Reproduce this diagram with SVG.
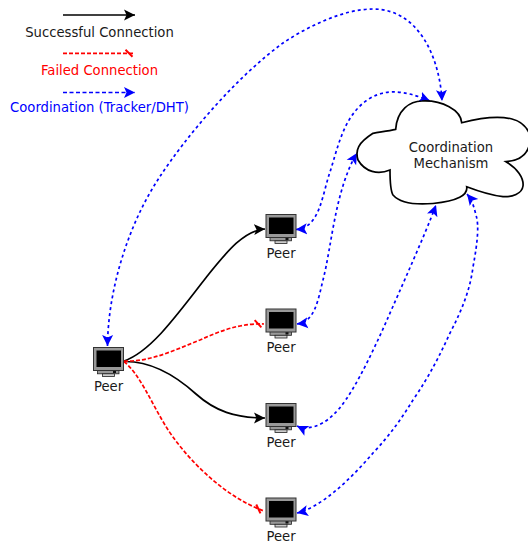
<svg xmlns="http://www.w3.org/2000/svg" width="528" height="544" viewBox="0 0 528 544">
<style>
text{font-family:"DejaVu Sans",sans-serif;font-size:13.2px;text-anchor:middle;fill:#1a1a1a}
.c{fill:none;stroke-width:1.7}
.k{stroke:#000;marker-end:url(#ak)}
.r{stroke:#f00;stroke-dasharray:4 2;marker-end:url(#tick)}
.b{stroke:#00f;stroke-dasharray:3 3;marker-start:url(#ab);marker-end:url(#ab)}
.l{stroke:#00f;stroke-dasharray:4 2.500;marker-end:url(#ab)}
</style>
<defs>
<marker id="ak" markerUnits="userSpaceOnUse" markerWidth="13" markerHeight="13" refX="11" refY="6" orient="auto"><path d="M0,.5L11,6L0,11.500L2.500,6Z" fill="#000"/></marker>
<marker id="ab" markerUnits="userSpaceOnUse" markerWidth="13" markerHeight="13" refX="11" refY="6" orient="auto-start-reverse"><path d="M0,.5L11,6L0,11.500L2.500,6Z" fill="#00f"/></marker>
<marker id="tick" markerUnits="userSpaceOnUse" markerWidth="14" markerHeight="14" refX="12.500" refY="6" orient="auto"><path d="M3,2.500L10,9.500" stroke="#f00" stroke-width="2" fill="none"/></marker>
<g id="pc">
<rect x="4.500" y="23" width="21.500" height="3.800" fill="#999" stroke="#222" stroke-width=".8"/>
<rect x="9.500" y="26.800" width="12" height="2.700" fill="#ccc" stroke="#222" stroke-width=".8"/>
<rect x="20" y="23.500" width="3" height="2.500" fill="#111"/>
<rect x=".5" y=".5" width="30" height="23" fill="#999" stroke="#333" stroke-width="1"/>
<rect x="3.500" y="3.500" width="24.500" height="16.500" fill="#000"/>
</g>
</defs>
<g id="connectors">
<path class="c k" d="M124,361C150,352 175,318 206.700,276.700C228,250 245,230 265,229"/>
<path class="c k" d="M124,361.500C150,361 175,375 196,394C215,411 235,418 265,418"/>
<path class="c r" d="M124,361C150,362 175,350 200,340C220,331 240,323 264,324"/>
<path class="c r" d="M124,361.500C140,375 150,400 165,425C182,453 220,495 264,511"/>
<path class="c b" d="M107.500,346C108,290 128,225 159,178C185,138 235,78 283,43C310,25 345,9 373,9C420,9 440,60 442,101"/>
<path class="c b" d="M296,229.500C320,228 322,195 330,172C337,150 342,125 358,108C370,95 385,91 397,92C410,93 420,97 430,101"/>
<path class="c b" d="M297,324C315,322 318,300 323,280C332,245 335,190 357,153"/>
<path class="c b" d="M297,426C305,430 320,428 333,415C350,400 370,358 387,320C400,290 425,235 436,205"/>
<path class="c b" d="M297,513C320,508 350,480 373,453C390,435 402,418 413,400C430,375 440,355 450,333C462,310 470,290 473,267C478,240 479,225 476,215C474,207 472,200 467,194"/>
<path class="c k" d="M63,15H135"/>
<path class="c r" d="M63,53.300H135"/>
<path class="c l" d="M63,92.500H135"/>
</g>
<g id="legend">
<text x="99.500" y="37.300">Successful Connection</text>
<text x="99.500" y="75" style="fill:#f00">Failed Connection</text>
<text x="99.500" y="112.300" style="fill:#00f">Coordination (Tracker/DHT)</text>
</g>
<g id="mechanism">
<path d="M395.700,129.300C397,110 410,101 422,101C442,100 461,110 461.700,122.700C480,118 500,116 512,119C520,121 527,127 530,135C531,150 525,160 506,161.700C517,168 524,178 523,186C522,194 512,197 503,196.700C490,195 478,191 466.700,186.700C468,195 458,201 433,203.500C415,205 400,203 393,195C390,190 390,178 390,170C378,175 365,172 358,160C355,150 358,143 373,133.300C380,132 388,131 395.700,129.300Z" fill="#fff" stroke="#000" stroke-width="1.700"/>
<text x="451" y="152">Coordination</text>
<text x="451" y="168.300">Mechanism</text>
</g>
<g id="peer1"><use href="#pc" x="93" y="347"/><text x="108.500" y="390.500">Peer</text></g>
<g id="peer2"><use href="#pc" x="265.500" y="214"/><text x="281" y="257.500">Peer</text></g>
<g id="peer3"><use href="#pc" x="265.500" y="308.500"/><text x="281" y="352">Peer</text></g>
<g id="peer4"><use href="#pc" x="265.500" y="403"/><text x="281" y="446.500">Peer</text></g>
<g id="peer5"><use href="#pc" x="265.500" y="497.500"/><text x="281" y="541">Peer</text></g>
</svg>
